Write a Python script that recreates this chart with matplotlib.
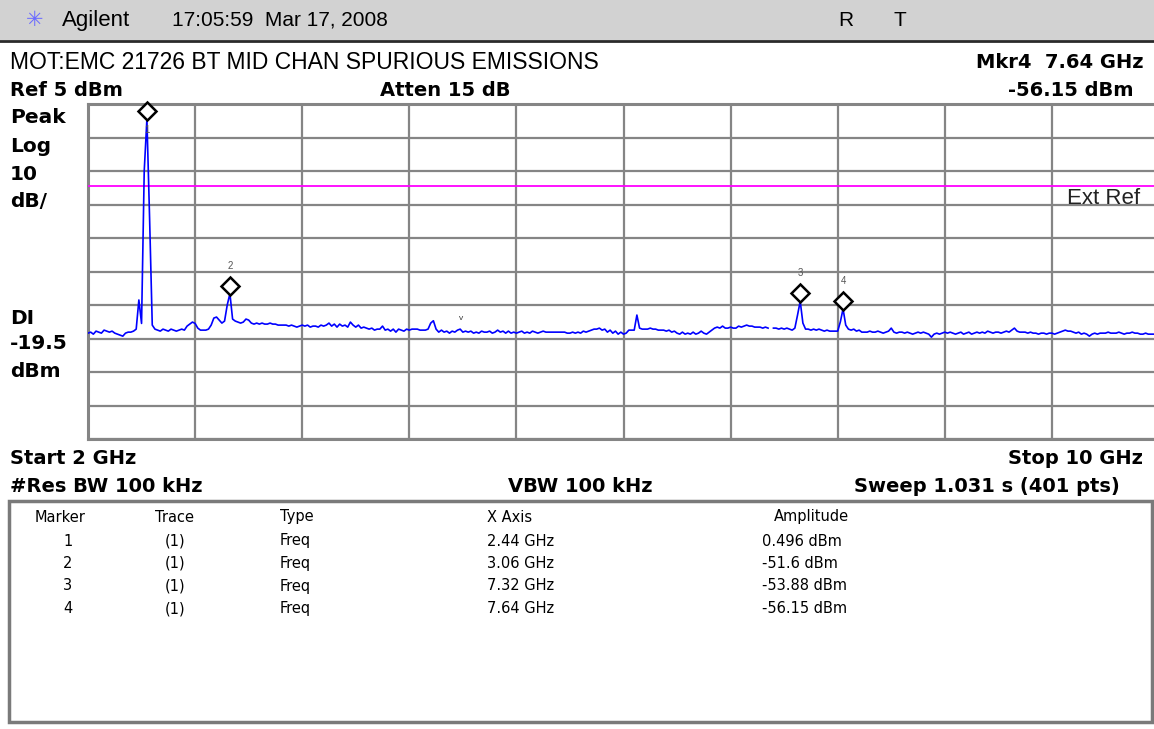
import numpy as np
import matplotlib
matplotlib.use("Agg")
import matplotlib.pyplot as plt
from matplotlib.patches import Rectangle
from matplotlib import transforms

W, H = 1154, 729

# sweep settings
start_ghz = 2
stop_ghz = 10
ref_dbm = 5
db_per_div = 10
display_line = -19.5

# trace (401 pts), dBm
trace_dbm = [
    -63.4, -63.1, -63.7, -62.8, -63.1, -63.4, -62.5, -62.8, -63.1, -62.8, -63.4, -63.7, -64.0, -64.3, -63.4, -63.1, -63.1, -62.8, -62.2, -53.5,
    -60.5, -15.0, 0.5, -29.0, -61.0, -62.2, -62.5, -62.8, -62.2, -62.5, -62.8, -62.2, -62.5, -62.8, -62.5, -62.2, -62.5, -61.3, -60.7, -60.1,
    -60.5, -61.9, -62.5, -62.5, -62.5, -62.2, -61.0, -58.9, -58.6, -59.5, -60.4, -59.8, -55.0, -51.6, -59.2, -59.8, -60.1, -60.4, -60.1, -59.2,
    -59.5, -60.4, -60.7, -60.4, -60.7, -60.4, -60.7, -60.7, -60.4, -60.7, -60.7, -61.0, -61.0, -61.0, -61.0, -61.3, -61.0, -61.3, -61.6, -61.3,
    -61.0, -61.3, -61.0, -61.6, -61.3, -61.3, -61.6, -61.0, -61.3, -61.0, -60.4, -61.3, -60.7, -61.6, -60.7, -61.3, -61.0, -61.6, -60.1, -61.0,
    -61.6, -61.0, -61.9, -61.6, -61.9, -62.2, -61.9, -62.5, -62.2, -62.2, -61.3, -62.5, -62.2, -62.8, -62.2, -63.1, -62.2, -62.5, -62.8, -62.2,
    -62.5, -62.2, -62.2, -62.2, -62.5, -62.5, -62.5, -62.2, -60.4, -59.7, -62.2, -63.1, -62.5, -63.1, -62.8, -63.4, -62.8, -63.1, -62.5, -62.2,
    -63.1, -62.8, -63.1, -62.8, -63.4, -63.1, -63.4, -62.8, -63.1, -63.1, -62.8, -63.4, -63.1, -62.5, -63.1, -62.8, -63.4, -62.8, -63.4, -63.1,
    -63.4, -63.1, -62.8, -63.4, -63.1, -63.4, -62.8, -63.1, -63.4, -63.1, -62.8, -63.1, -63.1, -63.1, -63.1, -63.1, -63.1, -63.1, -63.1, -63.4,
    -63.4, -63.1, -63.4, -63.1, -63.4, -62.8, -63.1, -62.8, -62.5, -62.2, -62.2, -61.9, -62.5, -62.2, -63.1, -62.5, -63.4, -62.8, -63.7, -63.1,
    -63.7, -63.4, -62.5, -62.5, -62.5, -58.0, -61.9, -62.2, -62.2, -62.2, -61.9, -62.2, -62.2, -62.5, -62.5, -62.5, -62.8, -62.5, -63.1, -62.8,
    -63.4, -63.7, -63.1, -63.7, -63.4, -63.7, -63.1, -63.7, -63.4, -62.8, -63.4, -63.7, -63.1, -62.5, -61.9, -61.6, -61.9, -61.3, -61.9, -61.9,
    -61.6, -61.9, -61.9, -61.3, -61.6, -61.3, -61.0, -61.3, -61.3, -61.6, -61.6, -61.6, -61.9, -61.6, -61.9, np.nan, -61.9, -61.9, -62.2, -61.9,
    -62.2, -61.9, -62.2, -62.5, -61.9, -58.0, -53.88, -60.4, -62.2, -62.2, -62.5, -62.2, -62.5, -62.2, -62.5, -62.8, -62.5, -62.8, -62.8, -62.8,
    -62.8, -60.0, -56.15, -61.0, -62.2, -62.5, -62.2, -62.8, -62.5, -63.1, -63.1, -63.1, -62.8, -63.1, -63.1, -62.8, -63.1, -63.4, -63.1, -62.8,
    -61.9, -63.1, -63.4, -63.1, -63.1, -63.4, -63.1, -63.4, -63.7, -63.4, -63.1, -63.4, -63.1, -63.4, -63.7, -64.6, -63.7, -63.4, -63.7, -63.4,
    -63.1, -63.4, -63.1, -63.4, -63.7, -63.4, -63.1, -63.7, -63.4, -63.1, -63.7, -63.4, -63.1, -63.4, -63.1, -63.4, -62.8, -63.1, -63.4, -63.1,
    -63.1, -63.4, -63.1, -62.8, -63.1, -62.5, -61.9, -62.8, -63.1, -63.1, -63.1, -63.4, -63.1, -63.4, -63.4, -63.7, -63.4, -63.4, -63.7, -63.4,
    -63.4, -63.7, -63.4, -63.1, -62.8, -62.5, -62.8, -62.8, -63.1, -63.4, -63.1, -63.7, -63.4, -63.7, -64.3, -63.7, -63.4, -63.7, -63.4, -63.4,
    -63.4, -63.1, -63.4, -63.4, -63.4, -63.1, -63.4, -63.7, -63.4, -63.4, -63.1, -63.4, -63.4, -63.7, -63.7, -63.4, -63.7, -63.7, -63.7, -63.7,
    -63.7,
]

# markers
marker_ids = [1, 2, 3, 4]
marker_freq = [2.44, 3.06, 7.32, 7.64]
marker_amp = [0.496, -51.6, -53.88, -56.15]
marker_amp_txt = ["0.496", "-51.6", "-53.88", "-56.15"]

freqs = np.linspace(start_ghz, stop_ghz, len(trace_dbm))

REG = "Liberation Sans"
BOLD = "DejaVu Sans"
TBL = "DejaVu Sans"

fig = plt.figure(figsize=(W / 100, H / 100), dpi=100)

# pixel-space background layer for the annotation text
bg = fig.add_axes([0, 0, 1, 1])
bg.set_xlim(0, W)
bg.set_ylim(H, 0)
bg.axis("off")

bg.add_patch(Rectangle((0, 0), W, 40, facecolor="#d2d2d2", edgecolor="none"))
bg.plot([0, W], [41, 41], color="#2a2a2a", lw=2)
bg.text(35, 20, "\u2733", color="#6b6bff", fontsize=15, ha="center", va="center", family="DejaVu Sans")
bg.text(62, 20, "Agilent", fontsize=16, va="center", family=REG)
bg.text(172, 20, "17:05:59  Mar 17, 2008", fontsize=15, va="center", family=REG)
bg.text(838, 20, "R", fontsize=15, va="center", family=REG)
bg.text(893, 20, "T", fontsize=15, va="center", family=REG)

bg.text(10, 62, "MOT:EMC 21726 BT MID CHAN SPURIOUS EMISSIONS", fontsize=16.5, va="center", family=REG)
bg.text(1143, 62, "Mkr4  %.2f GHz" % marker_freq[3], fontsize=14, weight="bold", ha="right", va="center", family=BOLD)
bg.text(10, 90, "Ref %d dBm" % ref_dbm, fontsize=14, weight="bold", va="center", family=BOLD)
bg.text(380, 90, "Atten 15 dB", fontsize=14, weight="bold", va="center", family=BOLD)
bg.text(1133, 90, "%s dBm" % marker_amp_txt[3], fontsize=14, weight="bold", ha="right", va="center", family=BOLD)

for txt, y in [("Peak", 117), ("Log", 146), ("10", 174), ("dB/", 201),
               ("DI", 318), ("%.1f" % display_line, 343), ("dBm", 371)]:
    bg.text(10, y, txt, fontsize=14.5, weight="bold", va="center", family=BOLD)

bg.text(10, 458, "Start %d GHz" % start_ghz, fontsize=14, weight="bold", va="center", family=BOLD)
bg.text(1143, 458, "Stop %d GHz" % stop_ghz, fontsize=14, weight="bold", ha="right", va="center", family=BOLD)
bg.text(10, 486, "#Res BW 100 kHz", fontsize=14, weight="bold", va="center", family=BOLD)
bg.text(508, 486, "VBW 100 kHz", fontsize=14, weight="bold", va="center", family=BOLD)
bg.text(1120, 486, "Sweep 1.031 s (%d pts)" % len(trace_dbm), fontsize=14, weight="bold", ha="right", va="center", family=BOLD)

# marker table
bg.add_patch(Rectangle((9, 501), 1143, 221, facecolor="none", edgecolor="#7a7a7a", lw=2.5))
cols = [("Marker", 35), ("Trace", 155), ("Type", 280), ("X Axis", 487), ("Amplitude", 774)]
for name, x in cols:
    bg.text(x, 517, name, fontsize=10.5, va="center", family=TBL)
for i, mid in enumerate(marker_ids):
    y = 541 + i * 22.5
    bg.text(68, y, str(mid), fontsize=10.5, ha="center", va="center", family=TBL)
    bg.text(165, y, "(1)", fontsize=10.5, va="center", family=TBL)
    bg.text(280, y, "Freq", fontsize=10.5, va="center", family=TBL)
    bg.text(487, y, "%.2f GHz" % marker_freq[i], fontsize=10.5, va="center", family=TBL)
    bg.text(762, y, "%s dBm" % marker_amp_txt[i], fontsize=10.5, va="center", family=TBL)

# graticule
ax = fig.add_axes([88 / W, 1 - 439 / H, 1071 / W, 335 / H])
ax.set_xlim(start_ghz, stop_ghz)
ax.set_ylim(ref_dbm - 10 * db_per_div, ref_dbm)
ax.set_xticks(np.linspace(start_ghz, stop_ghz, 11))
ax.set_yticks(np.linspace(ref_dbm - 10 * db_per_div, ref_dbm, 11))
ax.tick_params(length=0, labelbottom=False, labelleft=False)
ax.grid(True, color="#858585", lw=1.6)
for s in ax.spines.values():
    s.set_color("#858585")
    s.set_linewidth(2.2)

ax.axhline(display_line, color="#ff00ff", lw=1.3, zorder=3)
# label sits inside the graticule, so draw it on the plot axes in pixel space
ax.text(1067, 198, "Ext Ref", fontsize=16, va="center", family=REG, color="#222222",
        transform=bg.transData, zorder=5)

ax.plot(freqs, trace_dbm, color="#0000ff", lw=1.2, zorder=4)
ax.text(4.79, -59.0, "v", fontsize=6, ha="center", va="center", color="#333333", family=REG)

for mid, f, a in zip(marker_ids, marker_freq, marker_amp):
    # label goes under the diamond when there is no room above it
    lab_off = -11 if a > ref_dbm - 10 else 28
    tr = transforms.offset_copy(ax.transData, fig=fig, x=0, y=8, units="dots")
    ax.plot([f], [a], marker="D", ms=9, mfc="white", mec="black", mew=1.8,
            transform=tr, zorder=6, clip_on=False)
    ax.annotate(str(mid), xy=(f, a), xytext=(0, lab_off), textcoords="offset pixels",
                ha="center", va="center", fontsize=7, color="#555555", family=REG, zorder=5)

fig.savefig("out.png", dpi=100)
